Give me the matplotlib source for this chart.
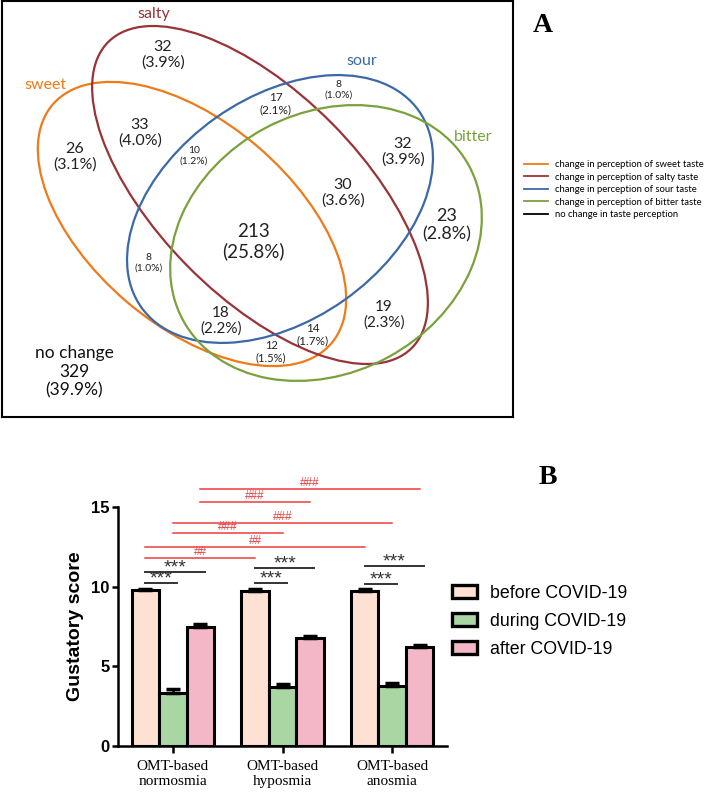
import numpy as np
import matplotlib
matplotlib.use('Agg')
import matplotlib.pyplot as plt
from matplotlib.patches import Ellipse, Patch
from matplotlib.lines import Line2D

# ---- panel A data (Venn of taste changes) ----
venn_sets = ['sweet', 'salty', 'sour', 'bitter']
venn_colors = ['#ee7a1a', '#993337', '#3b69a8', '#79a23c']
venn_counts = [32, 26, 33, 10, 17, 8, 32, 30, 213, 23, 8, 18, 19, 14, 12]
venn_pcts = ['3.9%', '3.1%', '4.0%', '1.2%', '2.1%', '1.0%', '3.9%', '3.6%',
             '25.8%', '2.8%', '1.0%', '2.2%', '2.3%', '1.7%', '1.5%']
no_change_count = 329
no_change_pct = '39.9%'
legend_a = ['change in perception of sweet taste', 'change in perception of salty taste',
            'change in perception of sour taste', 'change in perception of bitter taste',
            'no change in taste perception']

# ---- panel B data (gustatory score) ----
groups = ['OMT-based\nnormosmia', 'OMT-based\nhyposmia', 'OMT-based\nanosmia']
series = ['before COVID-19', 'during COVID-19', 'after COVID-19']
before = [9.8, 9.75, 9.75]
before_err = [0.08, 0.08, 0.08]
during = [3.3, 3.7, 3.75]
during_err = [0.3, 0.2, 0.22]
after = [7.5, 6.8, 6.2]
after_err = [0.15, 0.12, 0.15]
# within-group comparisons: group, bar a, bar b, label, height
stars = [(0, 0, 1, '***', 10.23), (0, 0, 2, '***', 10.92),
         (1, 0, 1, '***', 10.23), (1, 0, 2, '***', 11.17),
         (2, 0, 1, '***', 10.17), (2, 0, 2, '***', 11.3)]
# between-group comparisons: bar, group a, group b, label, height
hashes = [(0, 0, 1, '##', 11.8), (0, 0, 2, '##', 12.5),
          (1, 0, 1, '###', 13.37), (1, 0, 2, '###', 14.0),
          (2, 0, 1, '###', 15.32), (2, 0, 2, '###', 16.13)]

W, H = 708, 796
fig = plt.figure(figsize=(W / 100, H / 100), dpi=100)


def fbox(x0, y0, x1, y1):
    # pixel box (top-left origin) -> figure fraction rect
    return [x0 / W, 1 - y1 / H, (x1 - x0) / W, (y1 - y0) / H]


# ================= panel A =================
axA = fig.add_axes(fbox(2, 1, 513, 417))
axA.set_xlim(2, 513)
axA.set_ylim(417, 1)
axA.set_xticks([])
axA.set_yticks([])
for s in axA.spines.values():
    s.set_linewidth(1.5)

# ellipse geometry in pixels: centre, width, height, angle
ell_geom = [((192, 224), 367, 203, 40.6),
            ((260, 195), 431, 203, 45.3),
            ((280, 209), 340, 223, -35.3),
            ((326, 243), 325, 260, -28.2)]
for (c, w, h, ang), col in zip(ell_geom, venn_colors):
    axA.add_patch(Ellipse(c, w, h, angle=ang, fill=False, edgecolor=col, lw=1.6))

name_pos = [(45, 85), (154, 14), (362, 61), (473, 137)]
for name, p, col in zip(venn_sets, name_pos, venn_colors):
    axA.text(p[0], p[1], name, color=col, fontsize=11.5, family='Lato',
             ha='center', va='center')

txt_pos = [(163, 55), (75, 157), (140, 133), (194, 156), (276, 104), (339, 90),
           (403, 152), (343, 193), (253, 242), (447, 225), (149, 263),
           (221, 321), (384, 315), (313, 335), (271, 352)]
txt_size = [11.5, 11.5, 11.5, 7.5, 8.5, 7.5, 11.5, 11.5, 13.5, 13, 7.5, 11, 11, 8.5, 8]
for n, pc, p, fs in zip(venn_counts, venn_pcts, txt_pos, txt_size):
    axA.text(p[0], p[1], f'{n}\n({pc})', fontsize=fs, family='Lato', color='#222222',
             ha='center', va='center', linespacing=1.15)
axA.text(74, 372, f'no change\n{no_change_count}\n({no_change_pct})', fontsize=12.5,
         family='Lato', color='#111111', ha='center', va='center', linespacing=1.2)

fig.text(543 / W, 1 - 25 / H, 'A', fontsize=20, fontweight='bold',
         family='Liberation Serif', ha='center', va='center')
handles_a = [Line2D([], [], color=c, lw=1.3) for c in venn_colors + ['black']]
fig.legend(handles_a, legend_a, loc='upper left', bbox_to_anchor=(524 / W, 1 - 160 / H),
           frameon=False, handlelength=2.5, labelspacing=0.38,
           handletextpad=0.8, borderaxespad=0, borderpad=0,
           prop={'family': 'Lato', 'size': 6.8})

# ================= panel B =================
axB = fig.add_axes(fbox(118, 507, 447, 746))
x = np.arange(len(groups))
bw = 0.25
cols_b = ['#fde1d2', '#a9d6a3', '#f4b7c7']
vals = [before, during, after]
errs = [before_err, during_err, after_err]
for i in range(3):
    axB.bar(x + (i - 1) * bw, vals[i], bw, color=cols_b[i], edgecolor='black',
            linewidth=2.2, label=series[i], zorder=2)
    axB.errorbar(x + (i - 1) * bw, vals[i], yerr=[np.zeros(3), errs[i]], fmt='none',
                 ecolor='black', elinewidth=2, capsize=5, capthick=2.5, zorder=3)

axB.set_xlim(-0.5, 2.5)
axB.set_ylim(0, 15)
axB.set_yticks([0, 5, 10, 15])
axB.set_xticks(x)
axB.set_xticklabels(groups, family='Liberation Serif', fontsize=11)
for lab in axB.get_yticklabels():
    lab.set_fontweight('bold')
    lab.set_fontsize(12)
    lab.set_family('Liberation Sans')
axB.tick_params(width=1.8, length=4, pad=2)
axB.tick_params(axis='x', length=5, pad=5)
axB.spines['top'].set_visible(False)
axB.spines['right'].set_visible(False)
axB.spines['left'].set_linewidth(1.8)
axB.spines['bottom'].set_linewidth(1.8)
axB.set_ylabel('Gustatory score', fontsize=14, fontweight='bold',
               family='Liberation Sans', labelpad=5)

for g, a, b, lab, yv in stars:
    xa = g + (a - 1) * bw
    xb = g + (b - 1) * bw + 0.04
    axB.plot([xa, xb], [yv, yv], color='#333333', lw=1.4, clip_on=False)
    axB.text((xa + xb) / 2, yv - 0.02, lab, color='#333333', fontsize=14,
             family='Liberation Sans', ha='center', va='baseline')

for bi, ga, gb, lab, yv in hashes:
    xa = ga + (bi - 1) * bw
    xb = gb + (bi - 1) * bw
    axB.plot([xa, xb], [yv, yv], color='#f03c3c', lw=1.1, clip_on=False)
    axB.text((xa + xb) / 2, yv + 0.2, lab, color='#f03c3c', fontsize=8.5,
             family='Liberation Sans', ha='center', va='baseline')

fig.text(548 / W, 1 - 478 / H, 'B', fontsize=20, fontweight='bold',
         family='Liberation Serif', ha='center', va='center')
handles_b = [Patch(facecolor=c, edgecolor='black', linewidth=2.4) for c in cols_b]
fig.legend(handles_b, series, loc='upper left', bbox_to_anchor=(452 / W, 1 - 585 / H),
           frameon=False, handlelength=1.4, handleheight=0.75, labelspacing=0.62,
           handletextpad=0.75, borderaxespad=0, borderpad=0,
           prop={'family': 'Liberation Sans', 'size': 12.8})

fig.savefig('out.png', dpi=100)
